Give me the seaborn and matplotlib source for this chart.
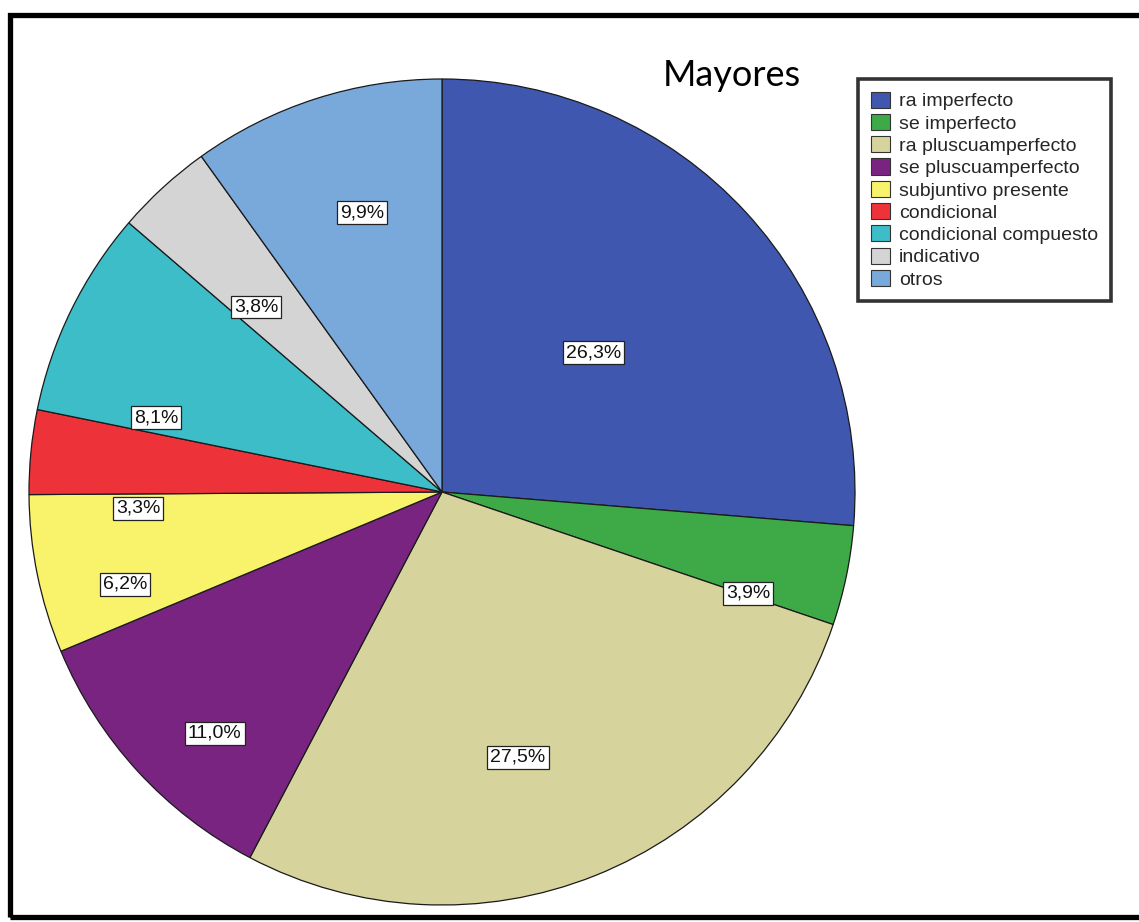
import matplotlib
matplotlib.use("Agg")
import matplotlib.pyplot as plt
from matplotlib.patches import Patch, Rectangle
import seaborn as sns

# Distribution of verb forms (percent of cases), clockwise from 12 o'clock
categories = [
    "ra imperfecto",
    "se imperfecto",
    "ra pluscuamperfecto",
    "se pluscuamperfecto",
    "subjuntivo presente",
    "condicional",
    "condicional compuesto",
    "indicativo",
    "otros",
]
percentages = [26.3, 3.9, 27.5, 11.0, 6.2, 3.3, 8.1, 3.8, 9.9]
slice_colors = [
    "#3F57AE", "#3DAA47", "#D6D49C", "#7A2482", "#F9F36C",
    "#EE323A", "#3CBDC7", "#D4D4D4", "#79A8DA",
]
title = "Mayores"

# Label anchor points (in pie-radius units, relative to the centre)
label_xy = [
    (0.366, 0.337), (0.741, -0.245), (0.184, -0.642), (-0.550, -0.584),
    (-0.768, -0.223), (-0.736, -0.039), (-0.692, 0.180), (-0.450, 0.448),
    (-0.194, 0.676),
]

sns.set_style("white")
plt.rcParams["font.family"] = ["Liberation Sans", "DejaVu Sans"]

W, H = 1139, 922
fig = plt.figure(figsize=(W / 100, H / 100), dpi=100)

# Pie axes: centre (442, 492) px, radius 413 px
cx, cy, r = 442, 492, 413
ax = fig.add_axes([(cx - r) / W, 1 - (cy + r) / H, 2 * r / W, 2 * r / H])
wedges, _ = ax.pie(
    percentages,
    colors=slice_colors,
    startangle=90,
    counterclock=False,
    radius=1.0,
    wedgeprops=dict(edgecolor="#1a1a1a", linewidth=0.9),
)
ax.set_aspect("auto")
ax.set_xlim(-1, 1)
ax.set_ylim(-1, 1)
ax.axis("off")

for (lx, ly), pct in zip(label_xy, percentages):
    ax.text(
        lx, ly, f"{pct:.1f}%".replace(".", ","),
        ha="center", va="center", fontsize=14, color="#111111",
        bbox=dict(boxstyle="square,pad=0.15", facecolor="white",
                  edgecolor="#222222", linewidth=0.9),
    )

# Title
fig.text(732 / W, 1 - 76 / H, title, ha="center", va="center",
         fontsize=26, family=["Lato", "DejaVu Sans"], color="black")

# Legend
handles = [Patch(facecolor=c, edgecolor="#333333", linewidth=0.8)
           for c in slice_colors]
leg = fig.legend(
    handles, categories,
    loc="upper left", bbox_to_anchor=(858 / W, 1 - 79 / H),
    fontsize=14, frameon=True, fancybox=False,
    handlelength=1.0, handleheight=0.9, handletextpad=0.45,
    labelspacing=0.18, borderpad=0.65, borderaxespad=0,
)
leg.get_frame().set_edgecolor("black")
leg.get_frame().set_linewidth(2.6)

# Outer frame (open on the right, running past the figure edge)
fig.patches.append(Rectangle((10 / W, 1 - 917 / H), 1.2, (917 - 15) / H,
                             transform=fig.transFigure, fill=False,
                             edgecolor="black", linewidth=3.8))

fig.savefig("out.png", dpi=100, facecolor="white")
